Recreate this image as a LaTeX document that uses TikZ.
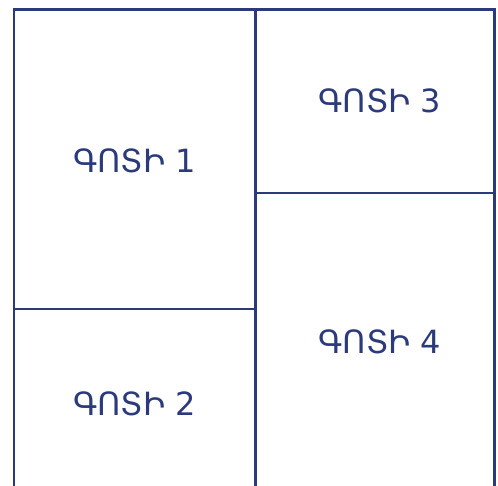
\documentclass[tikz,border=0pt]{standalone}
\usepackage{fontspec}
\newfontfamily\armfont{DejaVu Sans}
\definecolor{navy}{RGB}{43,58,122}
\begin{document}
\begin{tikzpicture}[x=1pt,y=-1pt,
  zoneline/.style={draw=navy,line width=2.6pt},
  zonelabel/.style={text=navy,font=\armfont\fontsize{32}{38}\selectfont,inner sep=0pt}]
\useasboundingbox (0,0) rectangle (498,486);
\begin{scope}
\clip (0,0) rectangle (498,486);
\coordinate (tl) at (14,9.5);
\coordinate (tr) at (494.5,9.5);
\coordinate (bl) at (14,500);
\coordinate (br) at (494.5,500);
\coordinate (mt) at (255.5,9.5);
\coordinate (mb) at (255.5,500);
\coordinate (lh1) at (14,309);
\coordinate (lh2) at (255.5,309);
\coordinate (rh1) at (255.5,193);
\coordinate (rh2) at (494.5,193);
\draw[zoneline] (bl) -- (tl) -- (tr) -- (br);
\draw[zoneline] (mt) -- (mb);
\draw[zoneline] (lh1) -- (lh2);
\draw[zoneline] (rh1) -- (rh2);
\end{scope}
\node[zonelabel] (z1) at (134.5,161) {ԳՈՏԻ 1};
\node[zonelabel] (z2) at (134.5,404) {ԳՈՏԻ 2};
\node[zonelabel] (z3) at (380,101) {ԳՈՏԻ 3};
\node[zonelabel] (z4) at (380,342) {ԳՈՏԻ 4};
\end{tikzpicture}
\end{document}
